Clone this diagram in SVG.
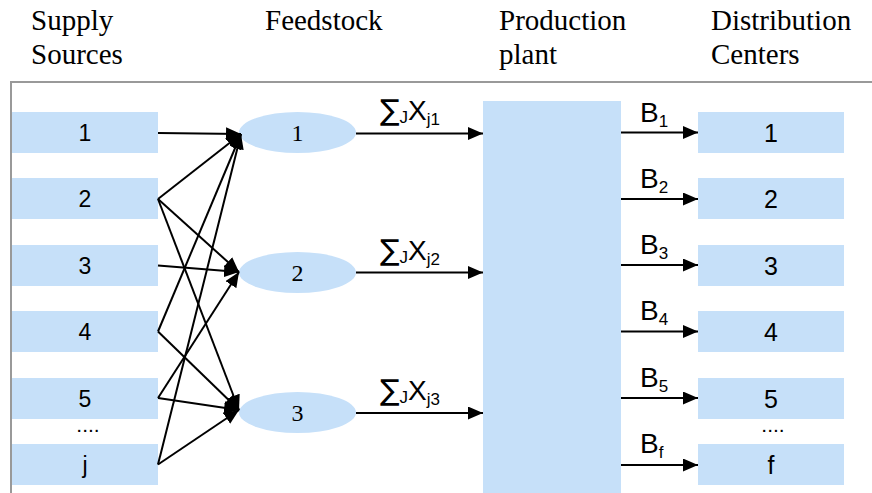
<svg xmlns="http://www.w3.org/2000/svg" width="872" height="493" viewBox="0 0 872 493">
<defs>
<marker id="ah" markerUnits="userSpaceOnUse" markerWidth="15" markerHeight="13" refX="15" refY="6.5" orient="auto">
<path d="M0,0 L15,6.5 L0,13 z" fill="#000"/>
</marker>
<style>
.box{fill:#c6e0f9}
.hdr{font-family:'Liberation Serif','DejaVu Serif','Times New Roman',serif;font-size:29px;fill:#000}
.num{font-family:'Liberation Sans',Arial,sans-serif;font-size:23px;fill:#000;text-anchor:middle}
.dnum{font-family:'Liberation Sans',Arial,sans-serif;font-size:25px;fill:#000;text-anchor:middle}
.dots{font-family:'Liberation Sans',Arial,sans-serif;font-size:21px;fill:#000;text-anchor:middle}
.enum{font-family:'Liberation Serif','DejaVu Serif','Times New Roman',serif;font-size:24px;fill:#000;text-anchor:middle}
.lbl{font-family:'Liberation Sans',Arial,sans-serif;font-size:28px;fill:#000}
.sig{font-family:'DejaVu Sans',sans-serif;font-size:29px}
.sub{font-size:17px}
.con line{stroke:#000;stroke-width:2;marker-end:url(#ah)}
</style>
</defs>
<rect x="0" y="0" width="872" height="493" fill="#fff"/>
<rect x="11" y="82" width="880" height="430" fill="none" stroke="#999" stroke-width="2"/>
<g id="headers">
<text class="hdr" x="31" y="30" font-family="Liberation Serif, serif">Supply</text>
<text class="hdr" x="31" y="64" font-family="Liberation Serif, serif">Sources</text>
<text class="hdr" x="265" y="30" font-family="Liberation Serif, serif">Feedstock</text>
<text class="hdr" x="499" y="30" font-family="Liberation Serif, serif">Production</text>
<text class="hdr" x="499" y="64" font-family="Liberation Serif, serif">plant</text>
<text class="hdr" x="711" y="30" font-family="Liberation Serif, serif">Distribution</text>
<text class="hdr" x="711" y="64" font-family="Liberation Serif, serif">Centers</text>
</g>
<g id="s1"><rect class="box" x="12" y="112" width="146" height="41"/><text class="num" x="85" y="141">1</text></g>
<g id="s2"><rect class="box" x="12" y="178" width="146" height="41"/><text class="num" x="85" y="207">2</text></g>
<g id="s3"><rect class="box" x="12" y="245" width="146" height="41"/><text class="num" x="85" y="274">3</text></g>
<g id="s4"><rect class="box" x="12" y="311" width="146" height="41"/><text class="num" x="85" y="340">4</text></g>
<g id="s5"><rect class="box" x="12" y="378" width="146" height="41"/><text class="num" x="85" y="407">5</text></g>
<g id="sdots"><text class="dots" x="88" y="432">....</text></g>
<g id="sj"><rect class="box" x="12" y="444" width="146" height="41"/><text class="num" x="85" y="473">j</text></g>
<g id="f1"><ellipse class="box" cx="297.5" cy="132.5" rx="58.5" ry="20.5"/><text class="enum" x="297.5" y="141" font-family="Liberation Serif, serif">1</text></g>
<g id="f2"><ellipse class="box" cx="297.5" cy="272.5" rx="58.5" ry="20.5"/><text class="enum" x="297.5" y="281" font-family="Liberation Serif, serif">2</text></g>
<g id="f3"><ellipse class="box" cx="297.5" cy="412.5" rx="58.5" ry="20.5"/><text class="enum" x="297.5" y="421" font-family="Liberation Serif, serif">3</text></g>
<g id="plant"><rect class="box" x="483" y="101" width="138" height="400"/></g>
<g id="d1"><rect class="box" x="698" y="112" width="146" height="41"/><text class="dnum" x="771" y="142">1</text></g>
<g id="d2"><rect class="box" x="698" y="178" width="146" height="41"/><text class="dnum" x="771" y="208">2</text></g>
<g id="d3"><rect class="box" x="698" y="245" width="146" height="41"/><text class="dnum" x="771" y="275">3</text></g>
<g id="d4"><rect class="box" x="698" y="311" width="146" height="41"/><text class="dnum" x="771" y="341">4</text></g>
<g id="d5"><rect class="box" x="698" y="378" width="146" height="41"/><text class="dnum" x="771" y="408">5</text></g>
<g id="ddots"><text class="dots" x="773" y="432">....</text></g>
<g id="df"><rect class="box" x="698" y="444" width="146" height="41"/><text class="dnum" x="771" y="474">f</text></g>
<g id="connectors" class="con">
<line x1="158" y1="133" x2="241" y2="134"/>
<line x1="158" y1="199" x2="241" y2="134"/>
<line x1="158" y1="199" x2="239" y2="272"/>
<line x1="158" y1="199" x2="239" y2="410"/>
<line x1="158" y1="265.5" x2="239" y2="272"/>
<line x1="158" y1="331.5" x2="241" y2="134"/>
<line x1="158" y1="331.5" x2="239" y2="410"/>
<line x1="158" y1="398" x2="239" y2="272"/>
<line x1="158" y1="398" x2="239" y2="410"/>
<line x1="158" y1="464.5" x2="241" y2="134"/>
<line x1="158" y1="464.5" x2="239" y2="410"/>
<line x1="356" y1="133.5" x2="483" y2="133.5"/>
<line x1="356" y1="272.5" x2="483" y2="272.5"/>
<line x1="356" y1="413" x2="483" y2="413"/>
<line x1="621" y1="132.5" x2="698" y2="132.5"/>
<line x1="621" y1="199" x2="698" y2="199"/>
<line x1="621" y1="265" x2="698" y2="265"/>
<line x1="621" y1="331.5" x2="698" y2="331.5"/>
<line x1="621" y1="398" x2="698" y2="398"/>
<line x1="621" y1="465" x2="698" y2="465"/>
</g>
<g id="flowlabels">
<text class="lbl" x="380" y="120"><tspan class="sig">∑</tspan><tspan class="sub" dy="3">J</tspan><tspan dy="-3">X</tspan><tspan class="sub" dy="5">j1</tspan></text>
<text class="lbl" x="380" y="260"><tspan class="sig">∑</tspan><tspan class="sub" dy="3">J</tspan><tspan dy="-3">X</tspan><tspan class="sub" dy="5">j2</tspan></text>
<text class="lbl" x="380" y="400"><tspan class="sig">∑</tspan><tspan class="sub" dy="3">J</tspan><tspan dy="-3">X</tspan><tspan class="sub" dy="5">j3</tspan></text>
<text class="lbl" x="640" y="122">B<tspan class="sub" dy="5">1</tspan></text>
<text class="lbl" x="640" y="188">B<tspan class="sub" dy="5">2</tspan></text>
<text class="lbl" x="640" y="254">B<tspan class="sub" dy="5">3</tspan></text>
<text class="lbl" x="640" y="320">B<tspan class="sub" dy="5">4</tspan></text>
<text class="lbl" x="640" y="387">B<tspan class="sub" dy="5">5</tspan></text>
<text class="lbl" x="640" y="453">B<tspan class="sub" dy="5">f</tspan></text>
</g>
</svg>
